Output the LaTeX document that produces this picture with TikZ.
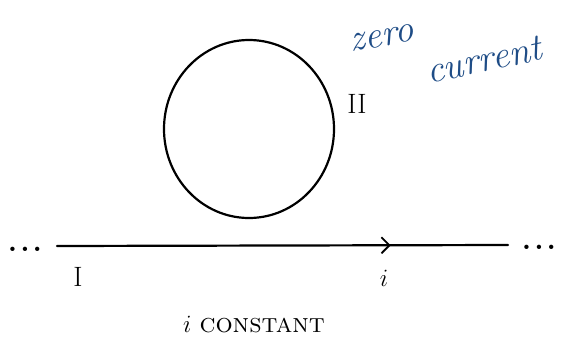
\documentclass[tikz,border=0pt]{standalone}
\usetikzlibrary{arrows.meta,decorations.markings,shapes.geometric}
\definecolor{inkblue}{RGB}{30,76,134}
\tikzset{
  ink/.style={line width=2.2pt,line cap=round},
  lbl/.style={font=\fontsize{28}{30}\selectfont},
  note/.style={text=inkblue,font=\fontsize{38}{40}\selectfont\itshape},
  dotted3/.style={font=\fontsize{30}{30}\selectfont\bfseries,inner sep=0pt}
}
\begin{document}
\begin{tikzpicture}[x=1pt,y=-1pt]
\useasboundingbox (0,0) rectangle (563,346);
% loop II
\node[ink,draw,ellipse,minimum width=170pt,minimum height=178pt,inner sep=0pt] (loop) at (249,129) {};
\node[lbl] (II) at (357,104) {II};
% wire I
\coordinate (wa) at (57,246);
\coordinate (wb) at (508,245);
\draw[ink,postaction={decorate},decoration={markings,mark=at position 0.74 with {\arrow[line width=1.8pt]{Straight Barb[length=8pt,width=16pt]}}}] (wa) -- (wb);
\node[dotted3,anchor=base] (dl) at (25,251) {.\hspace{3pt}.\hspace{3pt}.};
\node[dotted3,anchor=base] (dr) at (539,249) {.\hspace{3pt}.\hspace{3pt}.};
\node[lbl] (I) at (78,277) {I};
\node[lbl] (i) at (384,278) {$i$};
\node[font=\fontsize{27}{29}\selectfont] (const) at (254,325) {$i$ \textsc{constant}};
\node[note,rotate=10] (zero) at (382,38) {zero};
\node[note,rotate=12] (curr) at (484,60) {current};
\end{tikzpicture}
\end{document}
